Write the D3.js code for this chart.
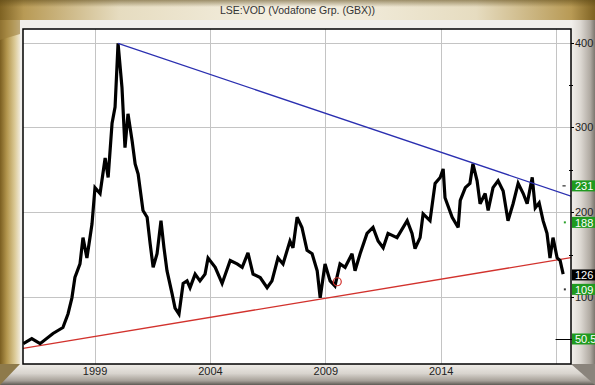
<!DOCTYPE html>
<meta charset="utf-8">
<style>
  body { margin: 0; background: #fff; }
  svg { display: block; font-family: "Liberation Sans", Arial, sans-serif; }
  .grid line { stroke: #c4c4c4; stroke-width: 1; shape-rendering: crispEdges; }
  .axis text { font-size: 11px; fill: #222; }
  .axis path, .axis line { stroke: #000; shape-rendering: crispEdges; }
  .price { fill: none; stroke: #000; stroke-width: 3.2; stroke-linejoin: miter; stroke-miterlimit: 3; }
</style>
<body>
<script src="https://d3js.org/d3.v7.min.js"></script>
<script>
// LSE:VOD price (decimal year, pence)
var years = [1995.91, 1996.28, 1996.64, 1997.20, 1997.63, 1997.85, 1998.02, 1998.15, 1998.37, 1998.50,
  1998.67, 1998.89, 1999.02, 1999.24, 1999.46, 1999.59, 1999.76, 1999.89, 2000.02, 2000.19,
  2000.32, 2000.45, 2000.63, 2000.76, 2000.89, 2001.10, 2001.28, 2001.41, 2001.54, 2001.71,
  2001.88, 2002.01, 2002.14, 2002.36, 2002.49, 2002.66, 2002.84, 2003.01, 2003.14, 2003.36,
  2003.57, 2003.79, 2003.92, 2004.23, 2004.53, 2004.88, 2005.18, 2005.40, 2005.65, 2005.87,
  2006.18, 2006.48, 2006.69, 2006.95, 2007.17, 2007.47, 2007.60, 2007.78, 2007.99, 2008.21,
  2008.43, 2008.65, 2008.78, 2008.99, 2009.21, 2009.42, 2009.64, 2009.86, 2010.16, 2010.29,
  2010.51, 2010.81, 2011.07, 2011.29, 2011.51, 2011.72, 2012.11, 2012.55, 2012.76, 2012.89,
  2013.11, 2013.24, 2013.54, 2013.76, 2013.98, 2014.11, 2014.19, 2014.50, 2014.76, 2014.85,
  2015.07, 2015.27, 2015.40, 2015.58, 2015.71, 2015.93, 2016.06, 2016.27, 2016.49, 2016.71,
  2016.92, 2017.14, 2017.36, 2017.58, 2017.75, 2017.97, 2018.10, 2018.27, 2018.44, 2018.61,
  2018.74, 2018.87, 2019.05, 2019.18, 2019.31];
var prices = [45, 51, 45, 57, 64, 80, 99, 123, 139, 170,
  146, 186, 229, 222, 264, 241, 305, 324, 399, 347,
  276, 316, 284, 257, 245, 202, 194, 163, 135, 151,
  190, 158, 131, 104, 87, 80, 116, 119, 111, 127,
  119, 127, 146, 135, 116, 143, 139, 135, 152, 127,
  123, 111, 119, 146, 139, 166, 158, 194, 182, 155,
  151, 131, 99, 139, 119, 113, 139, 135, 151, 131,
  151, 175, 182, 166, 158, 175, 170, 190, 175, 157,
  170, 198, 190, 234, 241, 251, 217, 194, 182, 214,
  229, 234, 257, 237, 210, 222, 202, 229, 237, 225,
  190, 210, 234, 222, 210, 241, 205, 211, 190, 175,
  146, 170, 146, 143, 127];

var xTicks = [1999, 2004, 2009, 2014, 2019];
var xLabels = ["1999", "2004", "2009", "2014", ""];
var yTicks = [100, 200, 300, 400];
var yMinor = [50, 150, 250, 350];

// trend lines [year, value]
var blueTrend = [[2000.02, 399], [2019.65, 219]];
var redTrend = [[1995.90, 39.5], [2019.65, 146.4]];
var circlePt = [2009.52, 118];

// right-hand price tags
var tags = [
  {v: 231, label: "231", fill: "#1f9a1f"},
  {v: 188, label: "188", fill: "#1f9a1f"},
  {v: 126, label: "126", fill: "#000"},
  {v: 109, label: "109", fill: "#1f9a1f"},
  {v: 50.5, label: "50.5", fill: "#1f9a1f"}
];

var W = 595, H = 385;
var margin = {top: 29, right: 24, bottom: 21, left: 23};
var pw = W - margin.left - margin.right,
    ph = H - margin.top - margin.bottom;

var x = d3.scaleLinear().domain([1995.90, 2019.65]).range([0, pw]);
var y = d3.scaleLinear().domain([21, 416]).range([ph, 0]);

var svg = d3.select("body").append("svg")
    .attr("width", W)
    .attr("height", H);

var defs = svg.append("defs");
function grad(id, x2, y2, stops) {
  var gr = defs.append("linearGradient").attr("id", id)
    .attr("x1", 0).attr("y1", 0).attr("x2", x2).attr("y2", y2);
  stops.forEach(function(s) {
    gr.append("stop").attr("offset", s[0]).attr("stop-color", s[1]);
  });
}
grad("titleG", 1, 0, [[0, "#7e6222"], [0.04, "#b89a55"], [0.2, "#e6dcc0"], [0.5, "#f6f2e6"], [0.8, "#e6dcc0"], [0.96, "#b89a55"], [1, "#7e6222"]]);
grad("titleV", 0, 1, [[0, "rgba(90,70,20,0.55)"], [0.35, "rgba(90,70,20,0)"], [1, "rgba(255,255,255,0)"]]);
grad("leftG", 1, 0, [[0, "#7a5e20"], [0.35, "#b4974e"], [0.75, "#dccb98"], [1, "#efe8d6"]]);
grad("rightG", 1, 0, [[0, "#f2f0ec"], [0.4, "#dcd8d2"], [0.8, "#b0aaa2"], [1, "#7c766e"]]);
grad("bottomG", 0, 1, [[0, "#f0ede8"], [0.45, "#d8d4ce"], [0.8, "#a6a098"], [1, "#5e5a54"]]);

// frame
svg.append("rect").attr("width", W).attr("height", H).attr("fill", "#f1efeb");
svg.append("rect").attr("x", 0).attr("y", H - margin.bottom).attr("width", W).attr("height", margin.bottom).attr("fill", "url(#bottomG)");
svg.append("rect").attr("x", W - margin.right).attr("y", 18).attr("width", margin.right).attr("height", H - 18 - margin.bottom).attr("fill", "url(#rightG)");
svg.append("rect").attr("x", 0).attr("y", 14).attr("width", 20).attr("height", H - 14 - margin.bottom).attr("fill", "url(#leftG)");
// bevelled corners
svg.append("path").attr("d", "M0," + (H - margin.bottom) + "L20," + (H - margin.bottom) + "L0," + H + "Z").attr("fill", "#8e7a4a");
svg.append("path").attr("d", "M" + W + "," + (H - margin.bottom) + "L" + (W - margin.right) + "," + (H - margin.bottom) + "L" + W + "," + H + "Z").attr("fill", "#8a847c");
svg.append("rect").attr("width", W).attr("height", 20).attr("fill", "url(#titleG)");
svg.append("rect").attr("width", W).attr("height", 20).attr("fill", "url(#titleV)");
svg.append("path").attr("d", "M0,20L20,20L20,34L0,40Z").attr("fill", "#9c7f3c").attr("opacity", 0.6);

svg.append("text")
    .attr("x", W / 2).attr("y", 14)
    .attr("text-anchor", "middle")
    .attr("font-size", 10.5)
    .attr("fill", "#333")
    .text("LSE:VOD (Vodafone Grp. (GBX))");

var g = svg.append("g").attr("transform", "translate(" + margin.left + "," + margin.top + ")");

g.append("rect").attr("width", pw).attr("height", ph).attr("fill", "#fff");

g.append("clipPath").attr("id", "clip")
  .append("rect").attr("width", pw).attr("height", ph);

// grid
var grid = g.append("g").attr("class", "grid");
grid.selectAll(".gx").data(xTicks).enter().append("line")
    .attr("x1", function(d) { return Math.round(x(d)) + 0.5; })
    .attr("x2", function(d) { return Math.round(x(d)) + 0.5; })
    .attr("y1", 0).attr("y2", ph);
grid.selectAll(".gy").data(yTicks).enter().append("line")
    .attr("x1", 0).attr("x2", pw)
    .attr("y1", function(d) { return Math.round(y(d)) + 0.5; })
    .attr("y2", function(d) { return Math.round(y(d)) + 0.5; });

// trend lines
var lineGen = d3.line().x(function(d) { return x(d[0]); }).y(function(d) { return y(d[1]); });
var plot = g.append("g").attr("clip-path", "url(#clip)");

plot.append("path").datum(redTrend).attr("d", lineGen)
    .attr("fill", "none").attr("stroke", "#d2322d").attr("stroke-width", 1.3);

var priceData = years.map(function(d, i) { return [d, prices[i]]; });
plot.append("path").datum(priceData).attr("class", "price").attr("d", lineGen);

plot.append("path").datum(blueTrend).attr("d", lineGen)
    .attr("fill", "none").attr("stroke", "#2b2fb0").attr("stroke-width", 1.3);

plot.append("circle")
    .attr("cx", x(circlePt[0])).attr("cy", y(circlePt[1])).attr("r", 4)
    .attr("fill", "none").attr("stroke", "#d2322d").attr("stroke-width", 1.2);

// small level markers near the right edge
plot.append("line").attr("x1", x(2019.28)).attr("x2", x(2019.42))
    .attr("y1", y(231)).attr("y2", y(231)).attr("stroke", "#000");
plot.append("rect").attr("x", x(2019.34)).attr("y", y(188) - 1).attr("width", 2).attr("height", 2).attr("fill", "#2aa02a");
plot.append("rect").attr("x", x(2019.34)).attr("y", y(109) - 1).attr("width", 2).attr("height", 2).attr("fill", "#333");
plot.append("line").attr("x1", x(2018.98)).attr("x2", pw)
    .attr("y1", Math.round(y(50.5)) + 0.5).attr("y2", Math.round(y(50.5)) + 0.5).attr("stroke", "#000");

// border
g.append("rect").attr("width", pw).attr("height", ph)
    .attr("fill", "none").attr("stroke", "#000").attr("stroke-width", 1.5);

// x axis
var xAxis = g.append("g").attr("class", "axis")
    .attr("transform", "translate(0," + ph + ")")
    .call(d3.axisBottom(x).tickValues(xTicks).tickSize(0).tickPadding(3)
      .tickFormat(function(d, i) { return xLabels[i]; }));
xAxis.select(".domain").remove();

// y axis on the right
var yAxis = g.append("g").attr("class", "axis")
    .attr("transform", "translate(" + pw + ",0)")
    .call(d3.axisRight(y).tickValues(yTicks).tickSize(3).tickPadding(1));
yAxis.select(".domain").remove();
g.append("g").attr("class", "axis").selectAll("line").data(yMinor).enter().append("line")
    .attr("x1", pw - 2).attr("x2", pw + 2)
    .attr("y1", function(d) { return Math.round(y(d)) + 0.5; })
    .attr("y2", function(d) { return Math.round(y(d)) + 0.5; });

// price tags
var tag = g.selectAll(".tag").data(tags).enter().append("g")
    .attr("transform", function(d) { return "translate(" + (pw + 1) + "," + y(d.v) + ")"; });
tag.append("rect").attr("x", 0).attr("y", -5.5).attr("width", 30).attr("height", 11)
    .attr("fill", function(d) { return d.fill; });
tag.append("text").attr("x", 3).attr("y", 4.5).attr("font-size", 11)
    .attr("fill", "#fff").text(function(d) { return d.label; });
</script>
</body>
